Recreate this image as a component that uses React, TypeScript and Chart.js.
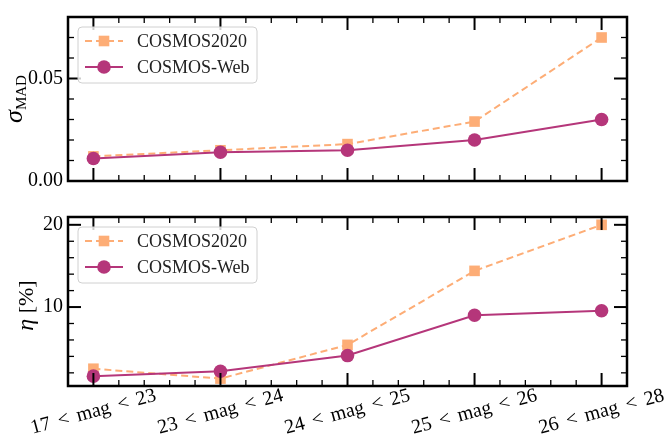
import React, { useEffect, useRef } from 'react';
import { Chart, registerables } from 'chart.js';

Chart.register(...registerables);

// ---------- data ----------
const categories = ['17 < mag < 23', '23 < mag < 24', '24 < mag < 25', '25 < mag < 26', '26 < mag < 28'];
const seriesNames = ['COSMOS2020', 'COSMOS-Web'];
const sigmaCosmos2020 = [0.012, 0.015, 0.018, 0.029, 0.07];
const sigmaCosmosWeb = [0.011, 0.014, 0.015, 0.02, 0.03];
const etaCosmos2020 = [2.5, 1.3, 5.4, 14.4, 20.0];
const etaCosmosWeb = [1.6, 2.2, 4.1, 9.0, 9.55];
const sigmaTicks = [0, 0.05];
const sigmaTickLabels = ['0.00', '0.05'];
const etaTicks = [10, 20];
const etaTickLabels = ['10', '20'];

// ---------- styles ----------
const ORANGE = '#fdad76';
const MAGENTA = '#b5367a';
const SERIF = '"Liberation Serif", "DejaVu Serif", serif';

const decorPlugin = {
  id: 'decor',
  afterDraw(chart: any, _args: any, opts: any) {
    const ctx = chart.ctx as CanvasRenderingContext2D;
    const { left, right, top, bottom } = chart.chartArea;
    const xs = chart.scales.x;
    const ys = chart.scales.y;
    ctx.save();
    ctx.strokeStyle = '#000';
    ctx.lineCap = 'butt';
    const line = (x1: number, y1: number, x2: number, y2: number, w: number) => {
      ctx.lineWidth = w;
      ctx.beginPath();
      ctx.moveTo(x1, y1);
      ctx.lineTo(x2, y2);
      ctx.stroke();
    };
    // x ticks (bottom + top, inward)
    const nX = Math.round((xs.max - xs.min) / opts.xMinor);
    for (let k = 0; k <= nX; k++) {
      const v = xs.min + k * opts.xMinor;
      const px = xs.getPixelForValue(v);
      const major = Math.abs(v - Math.round(v)) < 1e-6;
      const len = major ? 13 : 6;
      const w = major ? 2 : 1.3;
      line(px, bottom, px, bottom - len, w);
      line(px, top, px, top + len, w);
    }
    // y ticks (left + right, inward)
    const start = Math.ceil(ys.min / opts.yMinor - 1e-9);
    const end = Math.floor(ys.max / opts.yMinor + 1e-9);
    for (let k = start; k <= end; k++) {
      const v = k * opts.yMinor;
      const py = ys.getPixelForValue(v);
      const r = v / opts.yMajor;
      const major = Math.abs(r - Math.round(r)) < 1e-6;
      const len = major ? 13 : 6;
      const w = major ? 2 : 1.3;
      line(left, py, left + len, py, w);
      line(right, py, right - len, py, w);
    }
    // frame
    ctx.lineWidth = 2.5;
    ctx.strokeRect(left, top, right - left, bottom - top);

    // x tick labels (rotated, centred)
    if (opts.xLabels) {
      ctx.fillStyle = '#000';
      ctx.font = '20px ' + SERIF;
      ctx.textAlign = 'center';
      ctx.textBaseline = 'middle';
      try { (ctx as any).wordSpacing = '3px'; } catch (e) { /* ignore */ }
      opts.xLabels.forEach((lab: string, i: number) => {
        const px = xs.getPixelForValue(i);
        ctx.save();
        ctx.translate(px, bottom + 26);
        ctx.rotate(-15 * Math.PI / 180);
        ctx.fillText(lab, 0, 0);
        ctx.restore();
      });
      try { (ctx as any).wordSpacing = '0px'; } catch (e) { /* ignore */ }
    }

    // y axis title (rotated)
    if (opts.title) {
      ctx.save();
      ctx.fillStyle = '#000';
      ctx.translate(opts.title.x, (top + bottom) / 2 + (opts.title.dy || 0));
      ctx.rotate(-Math.PI / 2);
      ctx.textBaseline = 'alphabetic';
      ctx.textAlign = 'left';
      let total = 0;
      opts.title.parts.forEach((p: any) => { ctx.font = p.font; total += ctx.measureText(p.t).width; });
      let cur = -total / 2;
      opts.title.parts.forEach((p: any) => {
        ctx.font = p.font;
        ctx.fillText(p.t, cur, p.shift);
        cur += ctx.measureText(p.t).width;
      });
      ctx.restore();
    }

    // legend
    const bx = left + 10;
    const by = top + 10;
    const bw = 179;
    const bh = 56;
    ctx.beginPath();
    const rr = 4;
    ctx.moveTo(bx + rr, by);
    ctx.lineTo(bx + bw - rr, by);
    ctx.arcTo(bx + bw, by, bx + bw, by + rr, rr);
    ctx.lineTo(bx + bw, by + bh - rr);
    ctx.arcTo(bx + bw, by + bh, bx + bw - rr, by + bh, rr);
    ctx.lineTo(bx + rr, by + bh);
    ctx.arcTo(bx, by + bh, bx, by + bh - rr, rr);
    ctx.lineTo(bx, by + rr);
    ctx.arcTo(bx, by, bx + rr, by, rr);
    ctx.closePath();
    ctx.fillStyle = 'rgba(255,255,255,0.8)';
    ctx.fill();
    ctx.strokeStyle = '#d0d0d0';
    ctx.lineWidth = 1;
    ctx.stroke();
    chart.data.datasets.forEach((ds: any, i: number) => {
      const cy = by + 14 + i * 26;
      ctx.strokeStyle = ds.borderColor;
      ctx.lineWidth = ds.borderWidth;
      ctx.setLineDash(ds.borderDash || []);
      line(bx + 7, cy, bx + 45, cy, ds.borderWidth);
      ctx.setLineDash([]);
      ctx.fillStyle = ds.pointBackgroundColor;
      const mx = bx + 26;
      if (ds.pointStyle === 'rect') {
        const s = Math.SQRT1_2 * ds.pointRadius;
        ctx.fillRect(mx - s, cy - s, 2 * s, 2 * s);
      } else {
        ctx.beginPath();
        ctx.arc(mx, cy, ds.pointRadius, 0, Math.PI * 2);
        ctx.fill();
      }
      ctx.fillStyle = '#222';
      ctx.font = '18px ' + SERIF;
      ctx.textAlign = 'left';
      ctx.textBaseline = 'middle';
      ctx.fillText(ds.label, bx + 59, cy + 1);
    });
    ctx.restore();
  },
};

function makeDatasets(a: number[], b: number[]) {
  return [
    {
      label: seriesNames[0],
      data: a.map((v, i) => ({ x: i, y: v })),
      borderColor: ORANGE,
      backgroundColor: ORANGE,
      pointBackgroundColor: ORANGE,
      pointBorderColor: ORANGE,
      pointBorderWidth: 0,
      pointStyle: 'rect',
      pointRadius: 7.5,
      borderWidth: 2,
      borderDash: [7, 4],
      order: 1,
    },
    {
      label: seriesNames[1],
      data: b.map((v, i) => ({ x: i, y: v })),
      borderColor: MAGENTA,
      backgroundColor: MAGENTA,
      pointBackgroundColor: MAGENTA,
      pointBorderColor: MAGENTA,
      pointBorderWidth: 0,
      pointStyle: 'circle',
      pointRadius: 6.8,
      borderWidth: 2,
      order: 0,
    },
  ];
}

function makeConfig(
  a: number[], b: number[], yMin: number, yMax: number,
  ticks: number[], tickLabels: string[], padding: any, decor: any,
): any {
  return {
    type: 'line',
    data: { datasets: makeDatasets(a, b) },
    plugins: [decorPlugin],
    options: {
      animation: false,
      responsive: true,
      maintainAspectRatio: false,
      layout: { padding },
      plugins: { legend: { display: false }, tooltip: { enabled: false }, decor },
      scales: {
        x: { type: 'linear', min: -0.2, max: 4.2, display: false },
        y: {
          type: 'linear',
          min: yMin,
          max: yMax,
          grid: { display: false, drawTicks: false },
          border: { display: false },
          ticks: {
            padding: 5,
            color: '#000',
            font: { family: SERIF, size: 20 },
            callback: (_v: any, idx: number) => tickLabels[idx],
          },
          afterBuildTicks: (s: any) => { s.ticks = ticks.map((v) => ({ value: v })); },
          afterFit: (s: any) => { s.width = 68; },
        },
      },
    },
  };
}

export default function App() {
  const topRef = useRef<HTMLCanvasElement>(null);
  const botRef = useRef<HTMLCanvasElement>(null);
  useEffect(() => {
    const c1 = new Chart(topRef.current as HTMLCanvasElement, makeConfig(
      sigmaCosmos2020, sigmaCosmosWeb, 0, 0.08, sigmaTicks, sigmaTickLabels,
      { top: 12, right: 43, bottom: 19, left: 0 },
      {
        xMinor: 0.2, yMinor: 0.01, yMajor: 0.05,
        title: {
          x: 22,
          parts: [
            { t: 'σ', font: 'italic 26px ' + SERIF, shift: 0 },
            { t: 'MAD', font: '15px ' + SERIF, shift: 4 },
          ],
        },
      },
    ));
    const c2 = new Chart(botRef.current as HTMLCanvasElement, makeConfig(
      etaCosmos2020, etaCosmosWeb, 0.4, 20.95, etaTicks, etaTickLabels,
      { top: 16, right: 43, bottom: 53, left: 0 },
      {
        xMinor: 0.2, yMinor: 2, yMajor: 10,
        xLabels: categories,
        title: {
          x: 33,
          dy: 4,
          parts: [
            { t: 'η', font: 'italic 24px ' + SERIF, shift: 0 },
            { t: ' [%]', font: '22px ' + SERIF, shift: 0 },
          ],
        },
      },
    ));
    return () => { c1.destroy(); c2.destroy(); };
  }, []);
  return (
    <div style={{ position: 'fixed', left: 0, top: 0, width: 670, height: 439, background: '#fff' }}>
      <div style={{ position: 'absolute', left: 0, top: 0, width: 670, height: 200 }}>
        <canvas ref={topRef} />
      </div>
      <div style={{ position: 'absolute', left: 0, top: 200, width: 670, height: 239 }}>
        <canvas ref={botRef} />
      </div>
    </div>
  );
}
